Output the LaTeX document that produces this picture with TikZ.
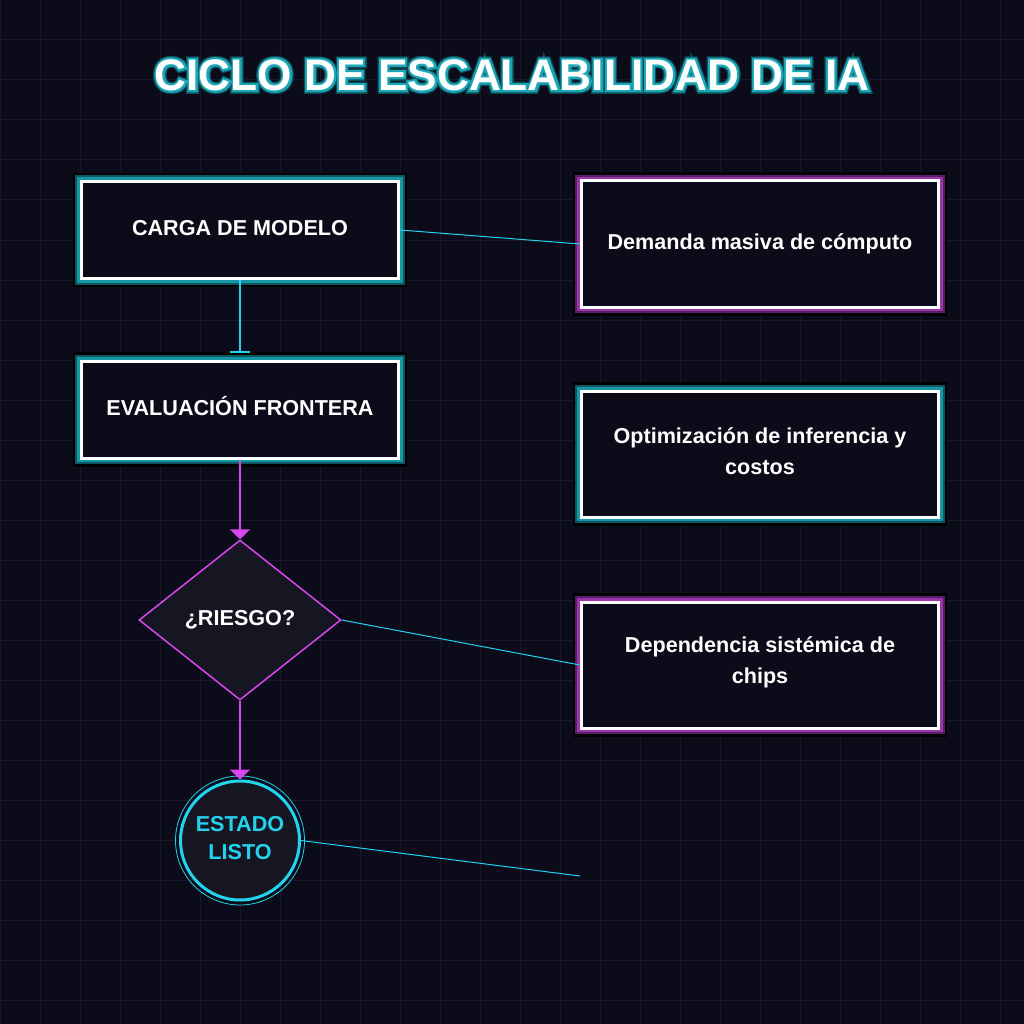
\documentclass[tikz,border=0pt]{standalone}
\usepackage{fontspec}
\setmainfont{Liberation Sans}
\newfontface\titleedge[FakeBold=16]{Liberation Sans Bold}
\newfontface\titleglow[FakeBold=10]{Liberation Sans Bold}
\usetikzlibrary{shapes.geometric, arrows.meta}

\definecolor{bg}{HTML}{0B0B1A}
\definecolor{gridcol}{HTML}{181829}
\definecolor{tealglow}{HTML}{1597A6}
\definecolor{tealdeep}{HTML}{0D5560}
\definecolor{titlehalo}{HTML}{1AA6B6}
\definecolor{titledark}{HTML}{0C4A54}
\definecolor{pinkglow}{HTML}{9A35AA}
\definecolor{pinkdeep}{HTML}{5A1E68}
\definecolor{linkcyan}{HTML}{22D3EE}
\definecolor{flowpink}{HTML}{D946EF}
\definecolor{shapefill}{HTML}{161622}

\tikzset{
	panel/.style={rectangle, draw=white, line width=3pt, fill=bg, text=white, inner sep=0pt,
		align=center, font=\fontsize{21.6}{31}\selectfont\bfseries},
	tealpanel/.style={panel, preaction={draw=black, line width=17.8pt},
		preaction={draw=tealdeep, line width=12.4pt}, preaction={draw=tealglow, line width=8.4pt}},
	pinkpanel/.style={panel, preaction={draw=black, line width=17.8pt},
		preaction={draw=pinkdeep, line width=12.4pt}, preaction={draw=pinkglow, line width=8.4pt}},
	leftbox/.style={minimum width=317pt, minimum height=97pt},
	rightbox/.style={minimum width=357pt, minimum height=126pt},
	oneline/.style={text height=16pt, text depth=5pt},
	titletext/.style={inner sep=0pt, font=\fontsize{44.2}{50}\selectfont},
	link/.style={draw=linkcyan, line width=1pt},
	flow/.style={draw=flowpink, line width=2.3pt, -{Triangle[width=20pt, length=10pt]}},
}

\begin{document}
\begin{tikzpicture}[x=1pt, y=-1pt]
		\useasboundingbox (0, 0) rectangle (1024, 1024);
		\fill[bg] (0, 0) rectangle (1024, 1024);
		\foreach \g in {0, 40, ..., 1000} {
			\draw[gridcol, line width=1pt] (\g, 0) -- (\g, 1024);
			\draw[gridcol, line width=1pt] (0, \g) -- (1024, \g);
		}

		% title: dark edge, teal glow, white on top
		\node[titletext, text=titledark] (titlerim) at (512, 75) {\titleedge CICLO DE ESCALABILIDAD DE IA};
		\node[titletext, text=titlehalo] (titleglow) at (512, 75) {\titleglow CICLO DE ESCALABILIDAD DE IA};
		\node[titletext, text=white, font=\fontsize{44.2}{50}\selectfont\bfseries] (title) at (512, 75) {CICLO DE ESCALABILIDAD DE IA};

		\node[tealpanel, leftbox, oneline] (load) at (240, 230) {CARGA DE MODELO};
		\node[tealpanel, leftbox, oneline] (frontier) at (240, 409.5) {EVALUACIÓN FRONTERA};
		\node[diamond, aspect=1.26, minimum width=202pt, minimum height=160pt, inner sep=0pt,
			draw=flowpink, line width=1.5pt, fill=shapefill, text=white,
			font=\fontsize{21.6}{31}\selectfont\bfseries] (risk) at (240, 620) {¿RIESGO?};
		\node[circle, minimum size=119pt, inner sep=0pt, draw=linkcyan, line width=3pt, fill=shapefill,
			text=linkcyan, align=center, text depth=4.3pt,
			font=\fontsize{21.6}{28}\selectfont\bfseries] (ready) at (240, 840.5) {ESTADO\\LISTO};
		\draw[linkcyan, line width=0.8pt] (ready.center) circle[radius=64.5pt];

		\node[pinkpanel, rightbox, oneline] (demand) at (760, 244) {Demanda masiva de cómputo};
		\node[tealpanel, rightbox, text depth=6.3pt] (infer) at (760, 454) {Optimización de inferencia y\\costos};
		\node[pinkpanel, rightbox, text depth=9pt] (chips) at (760, 665) {Dependencia sistémica de\\chips};
		\coordinate (spare) at (580, 876);

		\draw[linkcyan, line width=2.5pt, -{Bar[width=20pt, line width=2pt]}, shorten >=7pt] (load.south) -- (frontier.north);
		\draw[flow] (frontier.south) -- (risk.north);
		\draw[flow] (risk.south) -- (ready.north);
		\draw[link] (load.east) -- (demand.west);
		\draw[link] (risk.east) -- (chips.west);
		\draw[link] (ready.east) -- (spare);
	\end{tikzpicture}
\end{document}
